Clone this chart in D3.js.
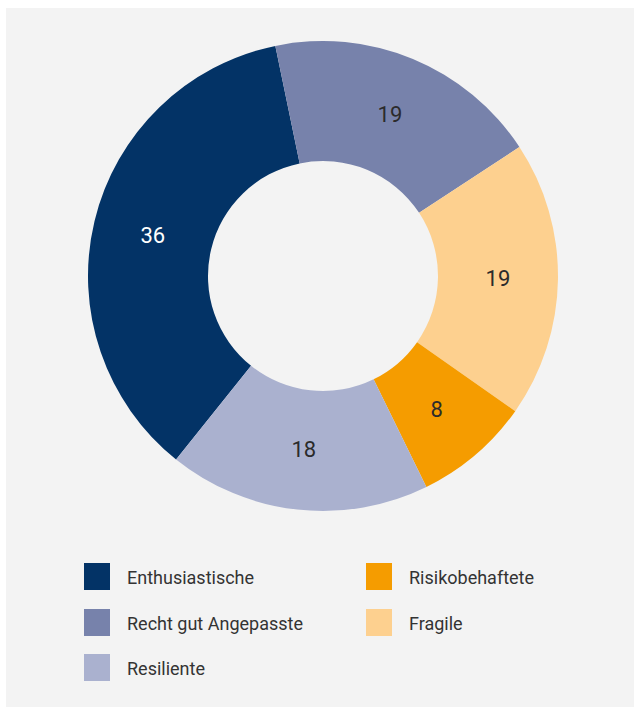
<!DOCTYPE html>
<html>
<head>
<meta charset="utf-8">
<script src="https://cdn.jsdelivr.net/npm/d3@7"></script>
<style>
  html, body { margin: 0; padding: 0; background: #ffffff; }
  #chart { width: 634px; height: 707px; }
  svg { display: block; font-family: Roboto, "Noto Sans", sans-serif; }
</style>
</head>
<body>
<div id="chart"></div>
<script>
// clockwise from the lower left, as drawn
const categories = ['Enthusiastische', 'Recht gut Angepasste', 'Fragile', 'Risikobehaftete', 'Resiliente'];
const values = [36, 19, 19, 8, 18];
const colors = ['#033366', '#7782ab', '#fdd08f', '#f59c00', '#aab1cf'];
const labelColors = ['#ffffff', '#2b2b2b', '#2b2b2b', '#2b2b2b', '#2b2b2b'];

// legend in two columns, read row by row
const legendOrder = ['Enthusiastische', 'Risikobehaftete', 'Recht gut Angepasste', 'Fragile', 'Resiliente'];

(function () {
  const W = 634, H = 707;
  const cx = 323, cy = 276;
  const outerR = 235, innerR = 115;
  const startDeg = 218.7;

  const svg = d3.select('#chart').append('svg')
    .attr('width', W)
    .attr('height', H);

  svg.append('rect')
    .attr('x', 6).attr('y', 8)
    .attr('width', W - 6).attr('height', H - 8)
    .attr('fill', '#f3f3f3');

  const data = categories.map((c, i) => ({ name: c, value: values[i], color: colors[i], label: labelColors[i] }));

  const pie = d3.pie()
    .sort(null)
    .value(d => d.value)
    .startAngle(startDeg * Math.PI / 180)
    .endAngle(startDeg * Math.PI / 180 + 2 * Math.PI);

  const arc = d3.arc().innerRadius(innerR).outerRadius(outerR);

  const g = svg.append('g').attr('transform', `translate(${cx},${cy})`);

  const slice = g.selectAll('.slice')
    .data(pie(data))
    .join('g')
    .attr('class', 'slice');

  slice.append('path')
    .attr('d', arc)
    .attr('fill', d => d.data.color);

  slice.append('text')
    .attr('transform', d => `translate(${arc.centroid(d)})`)
    .attr('text-anchor', 'middle')
    .attr('dominant-baseline', 'central')
    .attr('font-size', 22)
    .attr('fill', d => d.data.label)
    .text(d => d.data.value);

  // legend
  const colorOf = d3.scaleOrdinal().domain(categories).range(colors);
  const colX = [84, 366];
  const rowY = [563, 609, 654];

  const item = svg.append('g').selectAll('.legend-item')
    .data(legendOrder)
    .join('g')
    .attr('class', 'legend-item')
    .attr('transform', (d, i) => `translate(${colX[i % 2]},${rowY[Math.floor(i / 2)]})`);

  item.append('rect')
    .attr('width', 26)
    .attr('height', 27)
    .attr('fill', d => colorOf(d));

  item.append('text')
    .attr('x', 43)
    .attr('y', 14)
    .attr('dominant-baseline', 'central')
    .attr('font-size', 18)
    .attr('fill', '#333333')
    .text(d => d);
})();
</script>
</body>
</html>
